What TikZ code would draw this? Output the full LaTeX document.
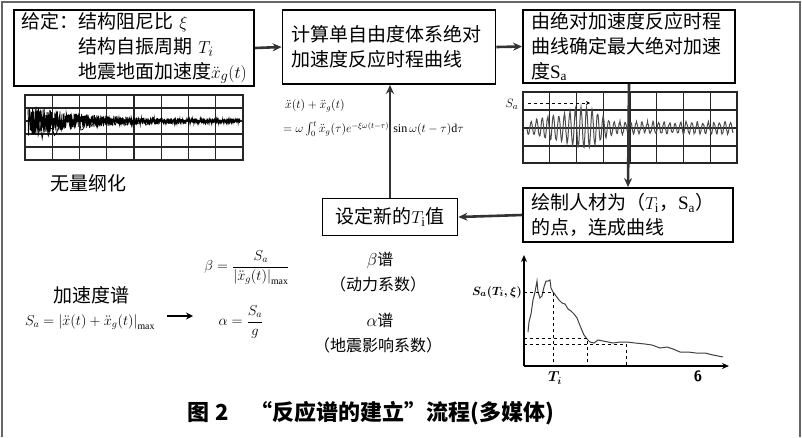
\documentclass[tikz,border=0pt]{standalone}
\usepackage{amsmath}
\usepackage{fontspec}
\setmainfont{Liberation Serif}
\newfontfamily\cjk{Noto Sans CJK SC}
\usetikzlibrary{arrows.meta}
\begin{document}
\begin{tikzpicture}[x=1pt,y=-1pt,
  boxst/.style={draw=black,line width=1.8pt,inner sep=0pt,font=\cjk\fontsize{19}{25}\selectfont},
  flow/.style={line width=2.6pt,draw=black!80,-{Stealth[length=9pt,width=8pt]}},
  gridst/.style={line width=1.2pt,draw=black!85},
  txt/.style={inner sep=0pt,font=\cjk\fontsize{19}{25}\selectfont},
  small/.style={inner sep=0pt,font=\cjk\fontsize{16}{20}\selectfont},
  dashln/.style={dashed,line width=1pt}]
\useasboundingbox (0,0) rectangle (802,437);
\fill[white] (0,0) rectangle (802,437);
% outer frame
\draw[line width=2pt,black!60] (1.5,437) -- (1.5,1.5) -- (800,1.5) -- (800,437);

% boxes
\node[boxst,minimum width=240pt,minimum height=76pt,align=left,text width=226pt] (b1) at (134,48)
  {\begin{tabular}{@{}l@{}l@{}}给定：&结构阻尼比 $\xi$\\ &结构自振周期 $T_i$\\ &地震地面加速度$\ddot{x}_g(t)$\end{tabular}};
\node[boxst,minimum width=213pt,minimum height=74pt,align=left,text width=195pt] (b2) at (389,47)
  {计算单自由度体系绝对\\加速度反应时程曲线};
\node[boxst,minimum width=212pt,minimum height=73pt,align=left,text width=196pt] (b3) at (629,46.5)
  {由绝对加速度反应时程\\曲线确定最大绝对加速\\度$\mathrm{S}_{\mathrm{a}}$};
\node[boxst,minimum width=210pt,minimum height=54pt,align=left,text width=194pt] (b4) at (628,215)
  {绘制人材为（$T_{\mathrm{i}}$，$\mathrm{S}_{\mathrm{a}}$）\\的点，连成曲线};
\node[boxst,minimum width=135pt,minimum height=37pt] (b5) at (390,217)
  {设定新的$T_{\mathrm{i}}$值};

% waveform 1
\draw[gridst] (25,95) rectangle (243,160);
\foreach \xx in {52.25,79.5,106.75,134,161.25,188.5,215.75} \draw[gridst] (\xx,95) -- (\xx,160);
\foreach \yy in {108,121,134,147} \draw[gridst] (25,\yy) -- (243,\yy);
\pgfmathsetseed{7}
\draw[line width=0.7pt] plot[domain=0:212,samples=1100] ({\x+28},{121+(rnd-0.5)*2*(14*exp(-\x/55)+2)});
\pgfmathsetseed{3}
\draw[line width=0.7pt] plot[domain=0:120,samples=60] ({\x+30},{121+(rnd-0.45)*2*(20*exp(-\x/40)+3)});
\node[txt] (lbl1) at (88,183) {无量纲化};

% waveform 2
\draw[gridst] (523,92) rectangle (737,163);
\foreach \xx in {549.75,576.5,603.25,630,656.75,683.5,710.25} \draw[gridst] (\xx,92) -- (\xx,163);
\foreach \yy in {110,128,146} \draw[gridst] (523,\yy) -- (737,\yy);
\pgfmathsetseed{11}
\draw[line width=1pt,black!70] plot[domain=0:206,samples=413]
  ({\x+527},{128+(5.5+14*exp(-((\x-58)/18)*((\x-58)/18))+6*exp(-((\x-28)/20)*((\x-28)/20)))*sin(65*\x)+(rnd-0.5)*2.5});
\node[inner sep=0pt,font=\fontsize{13}{15}\selectfont] (sa2) at (512,104) {$S_a$};
\coordinate (dstart) at (528,103);
\coordinate (dend) at (590,103);
\draw[dashln,-{Stealth[length=4pt,width=4pt]}] (dstart) -- (dend);

% formula
\node[inner sep=0pt,anchor=west,font=\fontsize{12}{14}\selectfont] (f1) at (285,106) {$\ddot{x}(t)+\ddot{x}_g(t)$};
\node[inner sep=0pt,anchor=west,font=\fontsize{12}{14}\selectfont] (f2) at (283,129)
  {$=\omega\int_0^t\ddot{x}_g(\tau)e^{-\xi\omega(t-\tau)}\,\sin\omega(t-\tau)\mathrm{d}\tau$};

% flow arrows
\draw[flow] (b1.east) -- (b2.west);
\draw[flow] (b2.east) -- (b3.west);
\draw[flow] (b3.south) -- (b4.north);
\draw[flow] (b4.west) -- (b5.east);
\draw[flow] (b5.north) -- (b2.south -| b5.north);

% bottom formulas
\node[txt] (lbl2) at (91,295) {加速度谱};
\node[inner sep=0pt,font=\fontsize{14}{16}\selectfont] (fsa) at (90,322)
  {$S_a=\left|\ddot{x}(t)+\ddot{x}_g(t)\right|_{\max}$};
\coordinate (ar1) at (167,316);
\coordinate (ar2) at (193,316);
\draw[line width=2.4pt,-{Stealth[length=7pt,width=7pt]}] (ar1) -- (ar2);
\node[inner sep=0pt,font=\fontsize{14}{16}\selectfont] (fbeta) at (247,268)
  {$\beta=\dfrac{S_a}{\left|\ddot{x}_g(t)\right|_{\max}}$};
\node[inner sep=0pt,font=\fontsize{14}{16}\selectfont] (falpha) at (241,322)
  {$\alpha=\dfrac{S_a}{g}$};
\node[small] (lb1) at (380,260) {$\beta$谱};
\node[small] (lb2) at (378,284) {（动力系数）};
\node[small] (lb3) at (380,320) {$\alpha$谱};
\node[small] (lb4) at (378,345) {（地震影响系数）};

% spectrum plot
\coordinate (o) at (524,366);
\coordinate (ytop) at (524,255);
\coordinate (xend) at (729,366);
\draw[line width=1.3pt,-{Stealth[length=7pt,width=6pt]}] (o) -- (ytop);
\draw[line width=1.3pt,-{Stealth[length=7pt,width=6pt]}] (o) -- (xend);
\draw[line width=1pt,black!75] plot coordinates {(528,332) (529,322) (531,314) (533,300) (535,292) (537,281) (538,292) (540,298) (542,296) (544,287) (546,281) (548,281) (550,280) (551,288) (553,292) (556,296) (559,300) (562,303) (565,304) (568,309) (571,311) (574,314) (577,318) (579,323) (581,328) (584,335) (587,339) (590,342) (594,343) (598,340) (603,341) (608,342) (613,343) (620,342) (627,342) (635,343) (645,344) (652,345) (660,348) (667,347) (673,349) (680,352) (688,352) (696,353) (705,353) (713,355) (723,357)};
\draw[dashln] (524,292) -- (553,292) -- (553,366);
\draw[dashln] (524,338) -- (587,338) -- (587,366);
\draw[dashln] (524,344) -- (626,344) -- (626,366);
\node[inner sep=0pt,anchor=east,font=\bfseries\fontsize{13}{15}\selectfont] (sat) at (522,292) {$\boldsymbol{S_a(T_i,\xi)}$};
\node[inner sep=0pt,font=\fontsize{14}{16}\selectfont] (ti) at (555,378) {$\boldsymbol{T_i}$};
\node[inner sep=0pt,font=\sffamily\bfseries\fontsize{15}{17}\selectfont] (six) at (698,376) {6};

% caption
\node[inner sep=0pt,font=\cjk\bfseries\fontsize{22}{26}\selectfont] (cap) at (371,413) {图 2\hspace{1em}“反应谱的建立”流程(多媒体)};
\end{tikzpicture}
\end{document}
